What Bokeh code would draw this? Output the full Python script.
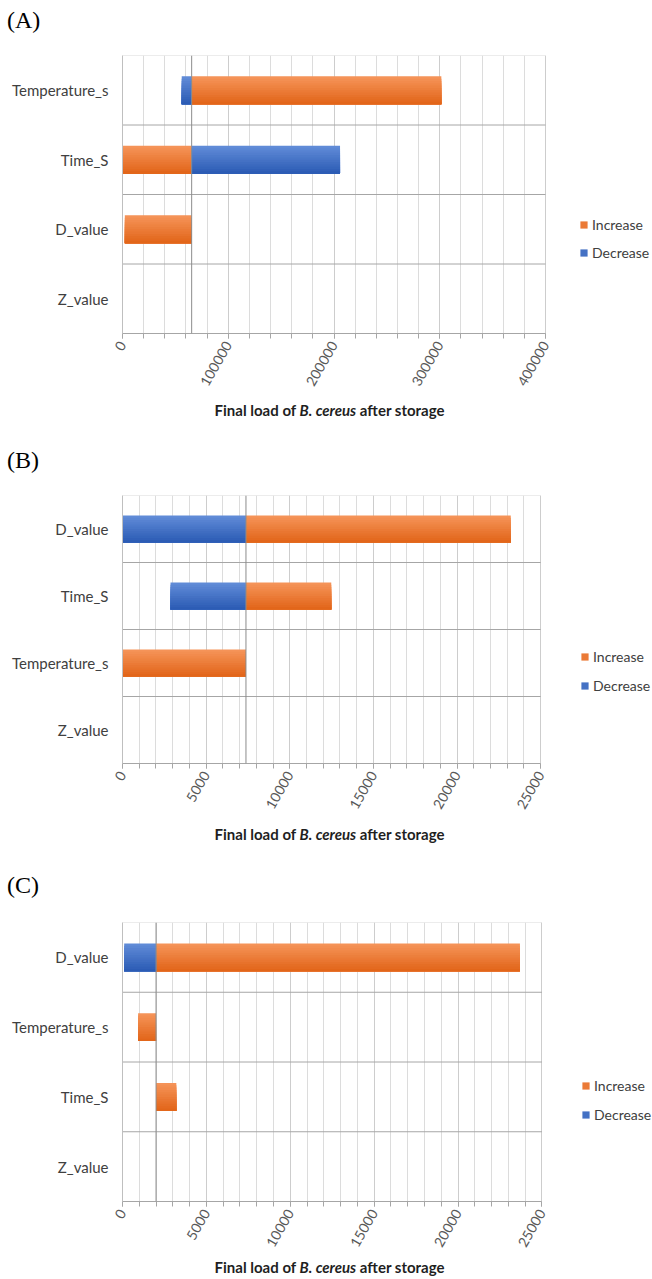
import math
from bokeh.plotting import figure
from bokeh.models import (ColumnDataSource, FactorRange, Range1d, FixedTicker, Span,
                          Legend, LegendItem, NumeralTickFormatter, Div)
from bokeh.layouts import column
from bokeh.transform import dodge
from bokeh.embed import file_html
from bokeh.resources import INLINE

# ---- data: final load of B. cereus for each parameter set to its high / low level ----
# (A)
a_params = ["Temperature_s", "Time_S", "D_value", "Z_value"]      # top to bottom
a_baseline = 65400
a_increase = [301500, 0, 2200, 65400]
a_decrease = [56000, 205700, 65400, 65400]
a_ticks = [0, 100000, 200000, 300000, 400000]
a_minor_step = 20000

# (B)
b_params = ["D_value", "Time_S", "Temperature_s", "Z_value"]
b_baseline = 7380
b_increase = [23210, 12480, 0, 7380]
b_decrease = [0, 2870, 7380, 7380]
b_ticks = [0, 5000, 10000, 15000, 20000, 25000]
b_minor_step = 1000

# (C)
c_params = ["D_value", "Temperature_s", "Time_S", "Z_value"]
c_baseline = 2000
c_increase = [23690, 930, 3210, 2000]
c_decrease = [100, 2000, 2000, 2000]
c_ticks = [0, 5000, 10000, 15000, 20000, 25000]
c_minor_step = 1000

series_names = ["Increase", "Decrease"]
axis_title_html = "Final load of <i>B. cereus</i> after storage"

# ---- styling ----
ORANGE = ((245, 147, 88), (226, 102, 26))   # gradient top -> bottom
BLUE = ((96, 139, 215), (44, 92, 181))
FONT = "Lato"
N_STRIPS = 12
BAR_H = 0.4
W = 652
CANVAS_RIGHT = 652      # drawing area runs on to hold the legend beside the axes


def shade(pair, t):
    (r0, g0, b0), (r1, g1, b1) = pair
    return "#%02x%02x%02x" % (round(r0 + (r1 - r0) * t), round(g0 + (g1 - g0) * t),
                              round(b0 + (b1 - b0) * t))


def letter_div(letter, start, end, center):
    pad = center - 14 - start
    html = ('<div style="padding-top:%dpx;padding-left:7px;height:28px;line-height:28px;'
            'font-family:\'Liberation Serif\';font-size:24px;color:#000;">(%s)</div>'
            % (pad, letter))
    return Div(text=html, width=W, height=end - start, margin=0)


def title_div(start, end, cx):
    h = end - start
    html = ('<div style="width:%dpx;text-align:center;height:%dpx;line-height:%dpx;'
            'white-space:nowrap;font-family:Lato;font-weight:bold;font-size:15px;'
            'color:#1f1f1f;">%s</div>' % (round(2 * cx), h, h, axis_title_html))
    return Div(text=html, width=W, height=h, margin=0)


def panel(params, baseline, increase, decrease, ticks, minor_step, lay):
    fig_top, fig_bottom = lay["fig_top"], lay["fig_bottom"]
    top = lay["frame_top"] - fig_top
    bottom = fig_bottom - lay["frame_bottom"]
    left = lay["frame_left"]
    lo, hi = ticks[0], ticks[-1]
    # value range stretched so that the axis itself ends at frame_right
    span_px = lay["frame_right"] - left
    x_end = lo + (hi - lo) * (CANVAS_RIGHT - left) / span_px
    p = figure(width=W, height=fig_bottom - fig_top, output_backend="svg",
               toolbar_location=None, margin=0,
               y_range=FactorRange(*list(reversed(params)), range_padding=0),
               x_range=Range1d(lo, x_end),
               min_border_left=left, min_border_right=W - CANVAS_RIGHT,
               min_border_top=top, min_border_bottom=bottom,
               background_fill_color="white", border_fill_color="white")
    p.outline_line_color = None

    # value axis
    xax = p.xaxis[0]
    xax.bounds = (lo, hi)
    xax.ticker = FixedTicker(ticks=ticks,
                             minor_ticks=list(range(lo, hi + 1, minor_step)))
    xax.formatter = NumeralTickFormatter(format="0")
    xax.major_label_orientation = math.radians(60)
    xax.major_label_text_font = FONT
    xax.major_label_text_font_size = "14px"
    xax.major_label_text_color = "#595959"
    xax.axis_line_color = "#A6A6A6"
    xax.major_tick_line_color = "#A6A6A6"
    xax.minor_tick_line_color = "#A6A6A6"
    xax.major_tick_in = 0
    xax.major_tick_out = 5
    xax.minor_tick_in = 0
    xax.minor_tick_out = 5
    xax.major_label_standoff = 4

    # category axis
    yax = p.yaxis[0]
    yax.major_label_text_font = FONT
    yax.major_label_text_font_size = "15px"
    yax.major_label_text_color = "#404040"
    yax.axis_line_color = "#BFBFBF"
    yax.major_tick_line_color = None
    yax.minor_tick_line_color = None
    yax.major_label_standoff = 8

    p.xgrid.bounds = (lo, hi)
    p.xgrid.grid_line_color = "#CDCDCD"
    p.xgrid.minor_grid_line_color = "#DCDCDC"
    p.ygrid.grid_line_color = None

    # separators between categories and the top edge of the plot area
    n = len(params)
    sep = ColumnDataSource(dict(cat=params[1:], x0=[lo] * (n - 1), x1=[hi] * (n - 1)))
    p.segment(x0="x0", x1="x1", y0=dodge("cat", 0.5, range=p.y_range),
              y1=dodge("cat", 0.5, range=p.y_range), source=sep,
              line_color="#A6A6A6", line_width=1)
    edge = ColumnDataSource(dict(cat=params[:1], x0=[lo], x1=[hi]))
    p.segment(x0="x0", x1="x1", y0=dodge("cat", 0.5, range=p.y_range),
              y1=dodge("cat", 0.5, range=p.y_range), source=edge,
              line_color="#D9D9D9", line_width=1)

    # bars: vertical gradient built from nested strips, each reaching the bar bottom
    legend_renderers = []
    strip = BAR_H / N_STRIPS
    for values, colors in ((increase, ORANGE), (decrease, BLUE)):
        src = ColumnDataSource(dict(cat=params, start=[baseline] * n, end=values))
        mid = None
        for i in range(N_STRIPS):
            top_off = BAR_H / 2 - i * strip
            h = BAR_H - i * strip
            r = p.hbar(y=dodge("cat", top_off - h / 2, range=p.y_range),
                       left="start", right="end", height=h, source=src,
                       fill_color=shade(colors, i / (N_STRIPS - 1)), line_color=None)
            if i == N_STRIPS // 2:
                mid = r
        legend_renderers.append(mid)

    p.add_layout(Span(location=baseline, dimension="height", line_color="#8C8C8C",
                      line_width=1))

    items = [LegendItem(label=name, renderers=[r])
             for name, r in zip(series_names, legend_renderers)]
    lab_h = 20
    leg = Legend(items=items,
                 location=(lay["legend_x"] - left,
                           lay["frame_bottom"] - (lay["legend_y2"] + lab_h / 2)),
                 glyph_width=9, glyph_height=9, label_height=lab_h, label_standoff=4,
                 spacing=lay["legend_pitch"] - lab_h, padding=0, margin=0,
                 border_line_color=None, background_fill_alpha=0, label_text_font=FONT,
                 label_text_font_size="14px", label_text_color="#404040")
    p.add_layout(leg, "center")
    return p


lay_a = dict(start=0, fig_top=40, frame_top=55, frame_bottom=333, fig_bottom=398, end=422,
             frame_left=122, frame_right=545, letter_y=20, title_cx=329.5,
             legend_x=579, legend_y2=252.7, legend_pitch=28)
lay_b = dict(start=422, fig_top=483, frame_top=495, frame_bottom=763, fig_bottom=822, end=846,
             frame_left=121, frame_right=540, letter_y=460, title_cx=329.5,
             legend_x=579, legend_y2=685, legend_pitch=29)
lay_c = dict(start=846, fig_top=910, frame_top=922, frame_bottom=1201, fig_bottom=1256,
             end=1279, frame_left=120, frame_right=541, letter_y=885, title_cx=329.5,
             legend_x=579, legend_y2=1114, legend_pitch=29)

blocks = []
for letter, args, lay in (
        ("A", (a_params, a_baseline, a_increase, a_decrease, a_ticks, a_minor_step), lay_a),
        ("B", (b_params, b_baseline, b_increase, b_decrease, b_ticks, b_minor_step), lay_b),
        ("C", (c_params, c_baseline, c_increase, c_decrease, c_ticks, c_minor_step), lay_c)):
    blocks.append(letter_div(letter, lay["start"], lay["fig_top"], lay["letter_y"]))
    blocks.append(panel(*args, lay))
    blocks.append(title_div(lay["fig_bottom"], lay["end"], lay["title_cx"]))

page = column(*blocks, spacing=0, margin=0)
open("out.html", "w").write(file_html(page, INLINE))
